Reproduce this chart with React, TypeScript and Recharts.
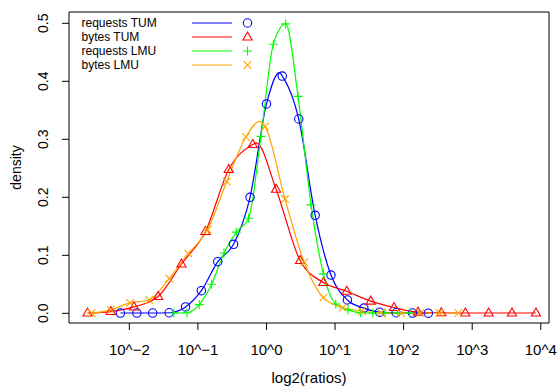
import React from 'react';
import { ComposedChart, Line, Scatter, XAxis, YAxis, ReferenceArea } from 'recharts';

// log10(ratio) positions and density values
const reqTumX = [-2.13, -1.89, -1.66, -1.42, -1.18, -0.95, -0.71, -0.48, -0.24, 0.0, 0.23, 0.47, 0.71, 0.94, 1.18, 1.42, 1.65, 1.89, 2.13, 2.36];
const reqTumY = [0.0005, 0.0005, 0.0005, 0.001, 0.011, 0.039, 0.089, 0.119, 0.2, 0.361, 0.409, 0.335, 0.169, 0.066, 0.023, 0.009, 0.002, 0.001, 0.0005, 0.0003];
const reqTumPeakX = [0.19];
const reqTumPeakY = [0.415];

const bytesTumX = [-2.61, -2.27, -1.93, -1.58, -1.24, -0.89, -0.55, -0.2, 0.14, 0.49, 0.83, 1.17, 1.52, 1.86, 2.21, 2.55, 2.9, 3.24, 3.58, 3.93];
const bytesTumY = [0.0005, 0.003, 0.011, 0.029, 0.085, 0.141, 0.248, 0.291, 0.214, 0.091, 0.053, 0.038, 0.021, 0.01, 0.002, 0.001, 0.0005, 0.0005, 0.0005, 0.0005];
const bytesTumPeakX = [-0.15];
const bytesTumPeakY = [0.294];

const reqLmuX = [-1.35, -1.16, -0.98, -0.8, -0.62, -0.44, -0.26, -0.08, 0.1, 0.28, 0.46, 0.65, 0.83, 1.01, 1.19, 1.37, 1.55, 1.73, 1.91, 2.09];
const reqLmuY = [0.0005, 0.001, 0.015, 0.05, 0.104, 0.14, 0.164, 0.305, 0.464, 0.499, 0.374, 0.187, 0.068, 0.016, 0.006, 0.001, 0.0005, 0.0005, 0.0003, 0.0003];
const reqLmuPeakX: number[] = [];
const reqLmuPeakY: number[] = [];

const bytesLmuX = [-2.55, -2.27, -1.99, -1.71, -1.42, -1.14, -0.86, -0.58, -0.3, -0.02, 0.27, 0.55, 0.83, 1.11, 1.39, 1.67, 1.96, 2.24, 2.52, 2.8];
const bytesLmuY = [0.0005, 0.006, 0.018, 0.023, 0.06, 0.103, 0.144, 0.227, 0.304, 0.322, 0.197, 0.088, 0.027, 0.01, 0.004, 0.001, 0.0005, 0.0005, 0.0005, 0.0005];
const bytesLmuPeakX = [-0.1];
const bytesLmuPeakY = [0.331];

const seriesNames = ['requests TUM', 'bytes TUM', 'requests LMU', 'bytes LMU'];
const seriesColors = ['#0000ff', '#ff0000', '#00ff00', '#ffa500'];
const seriesShapes = ['circle', 'triangle', 'plus', 'cross'];

const xTicks = [-2, -1, 0, 1, 2, 3, 4];
const yTicks = [0, 0.1, 0.2, 0.3, 0.4, 0.5];
const xLabel = 'log2(ratios)';
const yLabel = 'density';

const X_DOMAIN: [number, number] = [-2.88, 4.12];
const Y_DOMAIN: [number, number] = [-0.0167, 0.5195];
const FONT = '"Liberation Sans", Arial, Helvetica, sans-serif';

const toPts = (xs: number[], ys: number[]) => xs.map((x, i) => ({ x, y: ys[i] }));
const raw = [
  [reqTumX, reqTumY, reqTumPeakX, reqTumPeakY],
  [bytesTumX, bytesTumY, bytesTumPeakX, bytesTumPeakY],
  [reqLmuX, reqLmuY, reqLmuPeakX, reqLmuPeakY],
  [bytesLmuX, bytesLmuY, bytesLmuPeakX, bytesLmuPeakY],
];
const series = raw.map((r, i) => {
  const markers = toPts(r[0], r[1]);
  const curve = [...markers, ...toPts(r[2], r[3])].sort((a, b) => a.x - b.x);
  return { name: seriesNames[i], color: seriesColors[i], shape: seriesShapes[i], markers, curve };
});

function Marker({ cx, cy, shape, color }: { cx: number; cy: number; shape: string; color: string }) {
  if (cx == null || cy == null) return null;
  const common = { fill: 'none', stroke: color, strokeWidth: 1.1 };
  if (shape === 'circle') return <circle cx={cx} cy={cy} r={4.2} {...common} />;
  if (shape === 'triangle')
    return <path d={`M${cx},${cy - 5} L${cx + 4.6},${cy + 3} L${cx - 4.6},${cy + 3} Z`} {...common} />;
  if (shape === 'plus')
    return <path d={`M${cx - 4.5},${cy} h9 M${cx},${cy - 4.5} v9`} {...common} />;
  return <path d={`M${cx - 3.8},${cy - 3.8} l7.6,7.6 M${cx + 3.8},${cy - 3.8} l-7.6,7.6`} {...common} />;
}

const fmtX = (v: number) => `10^${v < 0 ? '\u2212' + -v : v}`;

function YTick(props: any) {
  const { y, payload } = props;
  const bx = 48;
  return (
    <text x={bx} y={y} transform={`rotate(-90, ${bx}, ${y})`} textAnchor="middle" fontSize={14} fontFamily={FONT} fill="#000">
      {Number(payload.value).toFixed(1)}
    </text>
  );
}

function LegendBlock() {
  const rows = [23, 37, 51, 65];
  return (
    <g>
      {series.map((s, i) => (
        <g key={s.name}>
          <text x={81.5} y={rows[i] + 4.3} fontSize={12} fontFamily={FONT} fill="#000">{s.name}</text>
          <line x1={192} x2={232} y1={rows[i]} y2={rows[i]} stroke={s.color} strokeWidth={1.2} />
          <Marker cx={247.5} cy={rows[i]} shape={s.shape} color={s.color} />
        </g>
      ))}
    </g>
  );
}

export default function App() {
  return (
    <div style={{ position: 'absolute', left: 0, top: 0, width: 558, height: 388, background: '#fff' }}>
      <ComposedChart width={558} height={388} margin={{ top: 12, right: 9, bottom: 0, left: 0 }}>
        <XAxis
          type="number"
          dataKey="x"
          domain={X_DOMAIN}
          allowDataOverflow
          ticks={xTicks}
          tickFormatter={fmtX}
          height={65}
          axisLine={false}
          tickLine={{ stroke: '#000' }}
          tickSize={7}
          tickMargin={14}
          tick={{ fontSize: 15, fontFamily: FONT, fill: '#000' }}
          label={{ value: xLabel, position: 'insideBottom', offset: 5, fontSize: 15, fontFamily: FONT, fill: '#000' }}
        />
        <YAxis
          type="number"
          dataKey="y"
          domain={Y_DOMAIN}
          allowDataOverflow
          ticks={yTicks}
          width={69}
          axisLine={false}
          tickLine={{ stroke: '#000' }}
          tickSize={7}
          tick={<YTick />}
          label={{
            content: () => (
              <text x={21} y={167.5} transform="rotate(-90, 21, 167.5)" textAnchor="middle" fontSize={14} fontFamily={FONT} fill="#000">
                {yLabel}
              </text>
            ),
          }}
        />
        <ReferenceArea x1={X_DOMAIN[0]} x2={X_DOMAIN[1]} y1={Y_DOMAIN[0]} y2={Y_DOMAIN[1]} fill="none" stroke="#000" strokeWidth={1} fillOpacity={0} />
        {series.map((s) => (
          <Line
            key={'l' + s.name}
            data={s.curve}
            dataKey="y"
            type="monotone"
            stroke={s.color}
            strokeWidth={1.2}
            dot={false}
            activeDot={false}
            isAnimationActive={false}
          />
        ))}
        {series.map((s) => (
          <Scatter
            key={'s' + s.name}
            data={s.markers}
            dataKey="y"
            isAnimationActive={false}
            shape={(p: any) => <Marker cx={p.cx} cy={p.cy} shape={s.shape} color={s.color} />}
          />
        ))}
        <LegendBlock />
      </ComposedChart>
    </div>
  );
}
